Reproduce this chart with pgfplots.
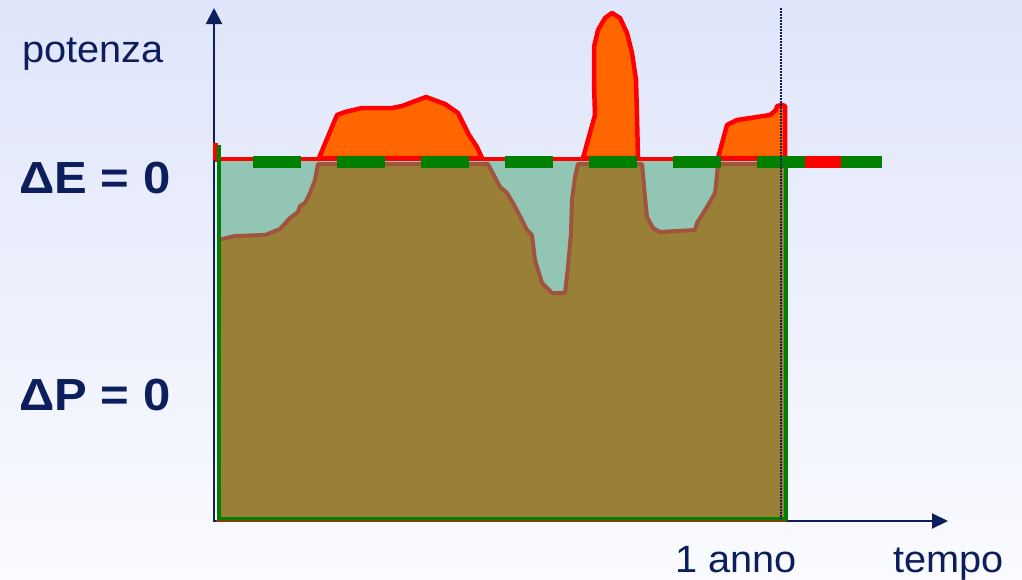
\documentclass[border=0pt]{standalone}
\usepackage{pgfplots}
\pgfplotsset{compat=1.18}
\usetikzlibrary{arrows.meta}
\usepackage{fontspec}
\setmainfont{Liberation Sans}
\definecolor{navy}{RGB}{12,30,92}
\definecolor{bgtop}{RGB}{223,229,250}
\definecolor{bgbot}{RGB}{250,251,255}
\definecolor{orangefill}{RGB}{255,102,0}
\definecolor{redline}{RGB}{255,0,0}
\definecolor{greenline}{RGB}{0,128,0}
\definecolor{brownfill}{RGB}{154,128,54}
\definecolor{brownline}{RGB}{160,84,62}
\definecolor{tealfill}{RGB}{146,197,180}
\begin{document}
\begin{tikzpicture}
\useasboundingbox (0,0) rectangle (1022pt,579pt);
\begin{axis}[at={(0,0)}, anchor=south west, width=1022pt, height=579pt,
  scale only axis, xmin=0, xmax=1022, ymin=0, ymax=579, y dir=reverse,
  hide axis, clip=false]
% background
\shade[top color=bgtop, bottom color=bgbot] (axis cs:0,0) rectangle (axis cs:1022,579);
% axes
\draw[navy, line width=2pt, -{Triangle[length=16pt,width=16pt]}] (axis cs:214,521) -- (axis cs:214,8);
\draw[navy, line width=2pt, -{Triangle[length=16pt,width=15pt]}] (axis cs:213,521) -- (axis cs:948,521);
% orange surplus areas
\addplot[draw=redline, line width=4.5pt, fill=orangefill, line join=round] coordinates {
(319,158) (337,115) (345,112) (362,108) (392,108) (402,106) (410,103) (426,97) (445,104) (458,113) (469,135) (477,147) (482,158)} -- cycle;
\addplot[draw=redline, line width=4.5pt, fill=orangefill, line join=round] coordinates {
(583,158) (595,115) (594,83) (594,47) (598,30) (605,18) (612,13) (620,18) (627,33) (632,53) (636,80) (637,117) (638,158)} -- cycle;
\addplot[draw=redline, line width=4.5pt, fill=orangefill, line join=round] coordinates {
(718,158) (727,125) (737,120) (757,117) (770,115) (776,110) (777,106) (782,105) (785,106) (785,158)} -- cycle;
\addplot[redline, line width=5pt] coordinates {(215,159) (785,159)};
\addplot[redline, line width=5pt] coordinates {(215,143) (215,160)};
\addplot[redline, line width=2pt] coordinates {(216,521) (786,521)};
% teal deficit background
\addplot[draw=none, fill=tealfill] coordinates {(218,161) (785,161) (785,320) (218,320)} -- cycle;
% brown production area
\addplot[draw=none, fill=brownfill] coordinates {
(218,520) (218,240) (235,236) (265,235) (280,229) (290,218) (298,212) (300,206) (305,203) (310,193) (315,180) (318,164)
(488,164) (500,187) (507,193) (513,203) (522,220) (527,230) (532,235) (535,260) (542,283) (552,293) (565,293) (568,267) (571,233) (572,200) (575,177) (578,164)
(642,164) (645,197) (647,217) (653,228) (660,232) (695,230) (697,223) (707,207) (715,193) (717,175) (718,164)
(785,164) (785,520)} -- cycle;
\addplot[brownline, line width=4pt, line join=round] coordinates {
(218,240) (235,236) (265,235) (280,229) (290,218) (298,212) (300,206) (305,203) (310,193) (315,180) (318,164)
(488,164) (500,187) (507,193) (513,203) (522,220) (527,230) (532,235) (535,260) (542,283) (552,293) (565,293) (568,267) (571,233) (572,200) (575,177) (578,164)
(642,164) (645,197) (647,217) (653,228) (660,232) (695,230) (697,223) (707,207) (715,193) (717,175) (718,164)
(785,164)};
% green border
\addplot[greenline, line width=4pt] coordinates {(218.5,145) (218.5,519) (786,519) (786,160)};
% dashed reference line
\addplot[redline, line width=12pt] coordinates {(786,162) (882,162)};
\addplot[greenline, line width=12pt, dash pattern=on 48pt off 36pt] coordinates {(253,162) (882,162)};
% one-year marker
\addplot[navy, line width=1.5pt, dash pattern=on 1.5pt off 1.5pt] coordinates {(781,8) (781,519)};
% texts
\node[anchor=base west, text=navy, font=\fontsize{38}{40}\selectfont, inner sep=0pt, xscale=1.045] at (axis cs:22,62) {potenza};
\node[anchor=base west, text=navy, font=\bfseries\fontsize{45}{46}\selectfont, inner sep=0pt, xscale=1.09] at (axis cs:19,193) {ΔE = 0};
\node[anchor=base west, text=navy, font=\bfseries\fontsize{45}{46}\selectfont, inner sep=0pt, xscale=1.09] at (axis cs:19,410) {ΔP = 0};
\node[anchor=base west, text=navy, font=\fontsize{38}{40}\selectfont, inner sep=0pt, xscale=1.045] at (axis cs:675,572) {1 anno};
\node[anchor=base west, text=navy, font=\fontsize{38}{40}\selectfont, inner sep=0pt, xscale=1.045] at (axis cs:893,572) {tempo};
\end{axis}
\end{tikzpicture}
\end{document}
